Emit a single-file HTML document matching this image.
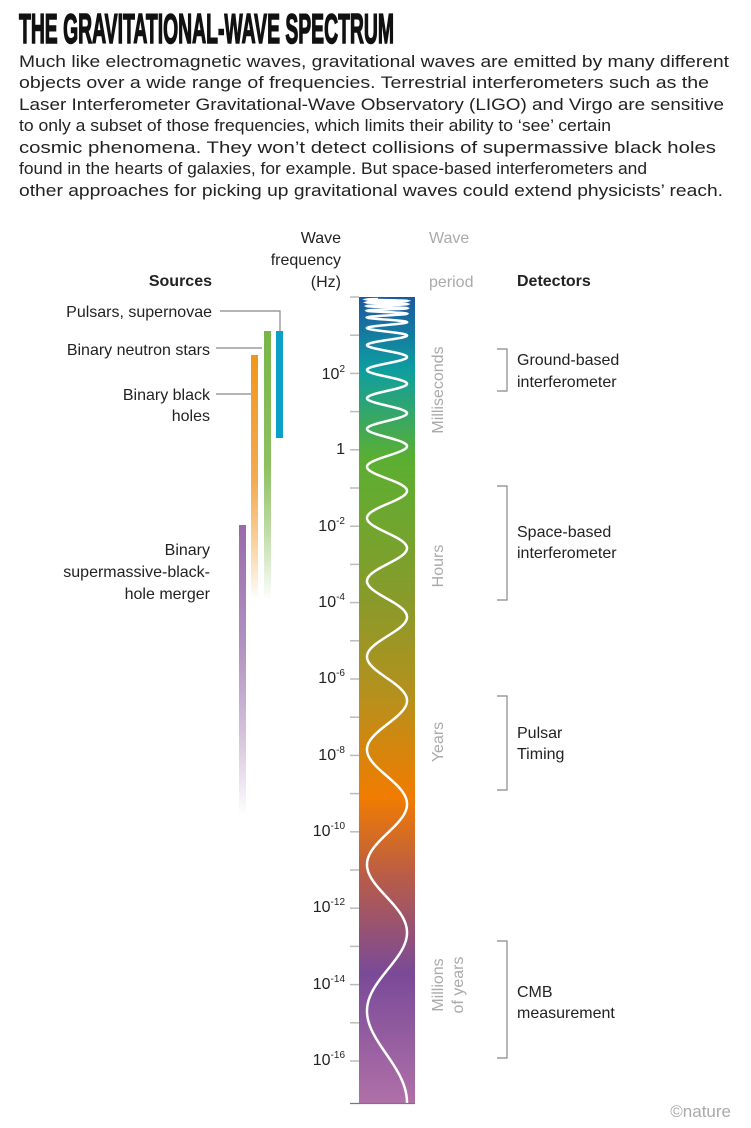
<!DOCTYPE html>
<html><head><meta charset="utf-8"><style>
html,body{margin:0;padding:0;background:#fff;}
svg{display:block;}
text{font-family:"Liberation Sans",sans-serif;}
</style></head><body>
<svg id="s" width="751" height="1128" viewBox="0 0 751 1128" xmlns="http://www.w3.org/2000/svg">
<defs>
<linearGradient id="bar" x1="0" y1="297" x2="0" y2="1103" gradientUnits="userSpaceOnUse">
<stop offset="0" stop-color="#1a58a0"/>
<stop offset="0.09" stop-color="#0e9ea0"/>
<stop offset="0.2" stop-color="#5aaf32"/>
<stop offset="0.38" stop-color="#8a9a2a"/>
<stop offset="0.5" stop-color="#b8901c"/>
<stop offset="0.62" stop-color="#f07c00"/>
<stop offset="0.72" stop-color="#b85c48"/>
<stop offset="0.84" stop-color="#7a4a98"/>
<stop offset="1" stop-color="#b070a8"/>
</linearGradient>
<linearGradient id="gG" x1="0" y1="331" x2="0" y2="600" gradientUnits="userSpaceOnUse"><stop offset="0" stop-color="#78b548"/><stop offset="0.5" stop-color="#8cc160"/><stop offset="1" stop-color="#78b548" stop-opacity="0"/></linearGradient>
<linearGradient id="gO" x1="0" y1="355" x2="0" y2="600" gradientUnits="userSpaceOnUse"><stop offset="0" stop-color="#f0961c"/><stop offset="0.5" stop-color="#f4aa50"/><stop offset="1" stop-color="#f0961c" stop-opacity="0"/></linearGradient>
<linearGradient id="gP" x1="0" y1="525" x2="0" y2="815" gradientUnits="userSpaceOnUse"><stop offset="0" stop-color="#9a6aaa"/><stop offset="0.4" stop-color="#b090c0"/><stop offset="1" stop-color="#9a6aaa" stop-opacity="0"/></linearGradient>
</defs>

<text x="19" y="43" font-size="42" font-weight="bold" textLength="375" lengthAdjust="spacingAndGlyphs" fill="#111" stroke="#111" stroke-width="1.6">THE GRAVITATIONAL-WAVE SPECTRUM</text>
<g font-size="17" fill="#222">
<text x="19" y="67" textLength="710" lengthAdjust="spacingAndGlyphs">Much like electromagnetic waves, gravitational waves are emitted by many different</text>
<text x="19" y="88" textLength="690" lengthAdjust="spacingAndGlyphs">objects over a wide range of frequencies. Terrestrial interferometers such as the</text>
<text x="19" y="110" textLength="705" lengthAdjust="spacingAndGlyphs">Laser Interferometer Gravitational-Wave Observatory (LIGO) and Virgo are sensitive</text>
<text x="19" y="131" textLength="592" lengthAdjust="spacingAndGlyphs">to only a subset of those frequencies, which limits their ability to ‘see’ certain</text>
<text x="19" y="153" textLength="697" lengthAdjust="spacingAndGlyphs">cosmic phenomena. They won’t detect collisions of supermassive black holes</text>
<text x="19" y="174" textLength="628" lengthAdjust="spacingAndGlyphs">found in the hearts of galaxies, for example. But space-based interferometers and</text>
<text x="19" y="196" textLength="704" lengthAdjust="spacingAndGlyphs">other approaches for picking up gravitational waves could extend physicists’ reach.</text>
</g>

<g font-size="16" fill="#222" text-anchor="end">
<text x="341" y="243">Wave</text>
<text x="341" y="265">frequency</text>
<text x="341" y="287">(Hz)</text>
<text x="212" y="286" font-weight="bold">Sources</text>
<text x="212" y="317">Pulsars, supernovae</text>
<text x="210" y="355">Binary neutron stars</text>
<text x="210" y="400">Binary black</text>
<text x="210" y="421">holes</text>
<text x="210" y="555">Binary</text>
<text x="210" y="577">supermassive-black-</text>
<text x="210" y="599">hole merger</text>
</g>
<g font-size="16" fill="#aaa">
<text x="429" y="243">Wave</text>
<text x="429" y="287">period</text>
</g>
<text x="517" y="286" font-size="16" font-weight="bold" fill="#222">Detectors</text>

<g stroke="#888" stroke-width="1.2" fill="none">
<path d="M220 311H280V331"/>
<path d="M216 348H262"/>
<path d="M216 394H251"/>
</g>
<rect x="276" y="331" width="7" height="107" fill="#0aa0c8"/>
<rect x="264" y="331" width="7" height="270" fill="url(#gG)"/>
<rect x="251" y="355" width="7" height="246" fill="url(#gO)"/>
<rect x="239" y="525" width="7" height="290" fill="url(#gP)"/>

<rect x="359" y="297" width="56" height="806" fill="url(#bar)"/>
<path id="wave" d="" stroke="#fff" stroke-width="2.5" fill="none"/>
<line x1="350" y1="1103.5" x2="415" y2="1103.5" stroke="#777" stroke-width="1.2"/>
<g id="ticks" stroke="#bbb" stroke-width="1.5"></g>

<g font-size="16" fill="#222" text-anchor="end">
<text x="345" y="379">10<tspan font-size="10" dy="-7">2</tspan></text>
<text x="345" y="454">1</text>
<text x="345" y="531">10<tspan font-size="10" dy="-7">-2</tspan></text>
<text x="345" y="607">10<tspan font-size="10" dy="-7">-4</tspan></text>
<text x="345" y="683">10<tspan font-size="10" dy="-7">-6</tspan></text>
<text x="345" y="760">10<tspan font-size="10" dy="-7">-8</tspan></text>
<text x="345" y="836">10<tspan font-size="10" dy="-7">-10</tspan></text>
<text x="345" y="912">10<tspan font-size="10" dy="-7">-12</tspan></text>
<text x="345" y="989">10<tspan font-size="10" dy="-7">-14</tspan></text>
<text x="345" y="1065">10<tspan font-size="10" dy="-7">-16</tspan></text>
</g>

<g font-size="16" fill="#aaa" text-anchor="middle">
<text transform="translate(443,390) rotate(-90)">Milliseconds</text>
<text transform="translate(443,566) rotate(-90)">Hours</text>
<text transform="translate(443,742) rotate(-90)">Years</text>
<text transform="translate(443,985) rotate(-90)">Millions</text>
<text transform="translate(463,985) rotate(-90)">of years</text>
</g>

<g stroke="#888" stroke-width="1.2" fill="none">
<path d="M497 349H507V391H497"/>
<path d="M497 486H507V600H497"/>
<path d="M497 696H507V790H497"/>
<path d="M497 941H507V1058H497"/>
</g>
<g font-size="16" fill="#222">
<text x="517" y="365">Ground-based</text>
<text x="517" y="387">interferometer</text>
<text x="517" y="537">Space-based</text>
<text x="517" y="558">interferometer</text>
<text x="517" y="738">Pulsar</text>
<text x="517" y="759">Timing</text>
<text x="517" y="997">CMB</text>
<text x="517" y="1018">measurement</text>
</g>
<text x="731" y="1117" font-size="17" fill="#aaa" text-anchor="end">©nature</text>
</svg>
<script>
(function(){
var t=document.getElementById('ticks'),h='';
for(var i=0;i<21;i++){var y=297+i*38.2;if(y>1100)break;h+='<line x1="350" y1="'+y+'" x2="359" y2="'+y+'"/>';}
t.innerHTML=h;
var P=[[297,2],[310,5],[330,14],[350,24],[380,28],[430,32],[470,46],[520,58],[600,72],[680,88],[780,110],[870,128],[1000,165],[1103,200]];
function per(y){for(var i=0;i<P.length-1;i++){if(y<=P[i+1][0]){var a=P[i],b=P[i+1],f=(y-a[0])/(b[0]-a[0]);return a[1]+(b[1]-a[1])*f;}}return 200;}
var ph=0,d='',y=1103;
while(y>=299){var x=387+20*Math.cos(ph);d+=(d?'L':'M')+x.toFixed(2)+' '+y.toFixed(2);var st=Math.min(0.5,per(y)/40);ph+=2*Math.PI*st/per(y);y-=st;}
document.getElementById('wave').setAttribute('d',d);
})();
</script>
</body></html>
